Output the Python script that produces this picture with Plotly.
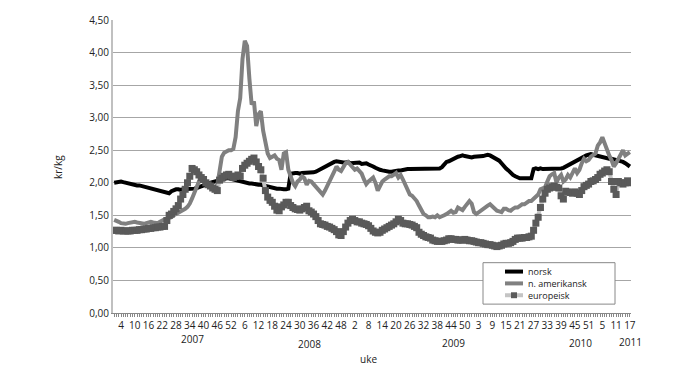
import plotly.graph_objects as go

# week index 0..225 : 2007 w1 .. 2011 w17
norsk = [
    2.00, 2.01, 2.02, 2.02, 2.01, 2.00, 1.99, 1.98, 1.97, 1.97,
    1.96, 1.96, 1.95, 1.94, 1.93, 1.92, 1.91, 1.90, 1.89, 1.88,
    1.87, 1.86, 1.85, 1.84, 1.84, 1.87, 1.89, 1.90, 1.90, 1.89,
    1.90, 1.90, 1.91, 1.90, 1.90, 1.91, 1.92, 1.93, 1.95, 1.96,
    1.97, 1.99, 2.00, 2.02, 2.03, 2.04, 2.05, 2.06, 2.06, 2.07,
    2.07, 2.06, 2.06, 2.05, 2.04, 2.03, 2.02, 2.01, 2.00, 1.99,
    1.99, 1.98, 1.98, 1.97, 1.97, 1.96, 1.96, 1.95, 1.94, 1.93,
    1.92, 1.91, 1.91, 1.90, 1.90, 1.90, 1.91, 2.14, 2.15, 2.15,
    2.15, 2.14, 2.15, 2.15, 2.16, 2.15, 2.15, 2.16, 2.17, 2.19,
    2.21, 2.23, 2.25, 2.27, 2.29, 2.31, 2.32, 2.33, 2.32, 2.32,
    2.31, 2.31, 2.32, 2.30, 2.30, 2.31, 2.30, 2.31, 2.29, 2.30,
    2.30, 2.28, 2.27, 2.25, 2.23, 2.21, 2.20, 2.19, 2.18, 2.18,
    2.17, 2.17, 2.18, 2.18, 2.19, 2.19, 2.20, 2.20, 2.21, 2.21,
    2.21, 2.21, 2.21, 2.21, 2.21, 2.21, 2.21, 2.22, 2.21, 2.21,
    2.21, 2.21, 2.22, 2.24, 2.29, 2.32, 2.33, 2.35, 2.37, 2.39,
    2.40, 2.41, 2.42, 2.41, 2.40, 2.40, 2.39, 2.40, 2.40, 2.41,
    2.40, 2.41, 2.42, 2.43, 2.42, 2.40, 2.39, 2.37, 2.34, 2.30,
    2.25, 2.22, 2.19, 2.15, 2.12, 2.10, 2.08, 2.07, 2.07, 2.07,
    2.07, 2.07, 2.07, 2.21, 2.22, 2.21, 2.22, 2.21, 2.21, 2.21,
    2.21, 2.22, 2.21, 2.21, 2.21, 2.22, 2.23, 2.25, 2.27, 2.29,
    2.31, 2.33, 2.35, 2.37, 2.39, 2.41, 2.42, 2.43, 2.44, 2.43,
    2.42, 2.41, 2.40, 2.39, 2.38, 2.38, 2.37, 2.37, 2.36, 2.36,
    2.35, 2.34, 2.32, 2.30, 2.28, 2.25,
]

namerikansk = [
    1.43, 1.42, 1.40, 1.38, 1.37, 1.37, 1.38, 1.39, 1.40, 1.40,
    1.39, 1.38, 1.38, 1.37, 1.38, 1.39, 1.40, 1.39, 1.38, 1.38,
    1.40, 1.43, 1.44, 1.45, 1.46, 1.47, 1.50, 1.52, 1.53, 1.55,
    1.57, 1.60, 1.63, 1.68, 1.76, 1.86, 1.96, 2.02, 2.05, 2.03,
    2.00, 1.97, 1.95, 1.93, 1.92, 1.96, 2.20, 2.40, 2.46, 2.48,
    2.50, 2.50, 2.52, 2.70, 3.10, 3.30, 3.90, 4.18, 4.10, 3.60,
    3.20, 3.25, 2.87, 3.05, 3.10, 2.80, 2.60, 2.45, 2.38, 2.40,
    2.42, 2.37, 2.35, 2.20, 2.45, 2.47, 2.20, 2.10, 2.00, 1.95,
    2.02, 2.05, 2.10, 2.07, 1.97, 2.03, 2.02, 1.98, 1.94, 1.90,
    1.85, 1.82, 1.88, 1.95, 2.00, 2.10, 2.17, 2.25, 2.20, 2.18,
    2.25, 2.30, 2.32, 2.28, 2.25, 2.20, 2.22, 2.18, 2.14, 2.05,
    1.98, 2.02, 2.05, 2.08, 2.00, 1.88, 1.95, 2.02, 2.05, 2.07,
    2.10, 2.10, 2.12, 2.15, 2.08, 2.12, 2.05, 1.97, 1.90, 1.82,
    1.80, 1.77, 1.72, 1.65, 1.58, 1.52, 1.50, 1.47, 1.47, 1.48,
    1.47, 1.50, 1.47, 1.48, 1.50, 1.52, 1.55, 1.57, 1.54, 1.55,
    1.62, 1.60, 1.58, 1.63, 1.67, 1.72, 1.68, 1.55, 1.52, 1.55,
    1.58, 1.60, 1.62, 1.65, 1.67, 1.63, 1.60, 1.57, 1.56, 1.55,
    1.60, 1.60, 1.58, 1.57, 1.60, 1.62, 1.62, 1.65, 1.67, 1.67,
    1.70, 1.72, 1.72, 1.75, 1.78, 1.82, 1.90, 1.92, 1.93, 2.02,
    2.10, 2.13, 2.15, 2.00, 2.08, 2.12, 2.02, 2.05, 2.12, 2.08,
    2.15, 2.22, 2.15, 2.20, 2.30, 2.37, 2.33, 2.35, 2.40, 2.42,
    2.45, 2.57, 2.62, 2.70, 2.60, 2.50, 2.42, 2.35, 2.25, 2.30,
    2.37, 2.42, 2.50, 2.42, 2.45, 2.47,
]

europeisk = [
    1.27, 1.27, 1.26, 1.27, 1.26, 1.26, 1.26, 1.26, 1.27, 1.27,
    1.27, 1.28, 1.28, 1.29, 1.29, 1.30, 1.30, 1.31, 1.31, 1.32,
    1.32, 1.33, 1.33, 1.42, 1.50, 1.52, 1.56, 1.60, 1.65, 1.75,
    1.82, 1.90, 2.00, 2.10, 2.22, 2.20, 2.17, 2.12, 2.08, 2.05,
    2.00, 1.97, 1.95, 1.92, 1.90, 1.88, 2.04, 2.07, 2.10, 2.12,
    2.13, 2.10, 2.08, 2.10, 2.12, 2.10, 2.22, 2.27, 2.30, 2.33,
    2.36, 2.38, 2.32, 2.25, 2.20, 2.07, 1.88, 1.78, 1.73, 1.70,
    1.64, 1.58, 1.57, 1.63, 1.66, 1.70, 1.70, 1.65, 1.62, 1.60,
    1.59, 1.58, 1.60, 1.62, 1.64, 1.57, 1.55, 1.52, 1.48, 1.42,
    1.37, 1.36, 1.35, 1.33, 1.32, 1.30, 1.28, 1.25, 1.20, 1.19,
    1.25, 1.32, 1.38, 1.42, 1.44, 1.42, 1.40, 1.40, 1.38, 1.37,
    1.36, 1.34, 1.30, 1.26, 1.24, 1.23, 1.24, 1.27, 1.29, 1.31,
    1.33, 1.35, 1.37, 1.40, 1.44, 1.42, 1.38, 1.37, 1.37, 1.36,
    1.35, 1.33, 1.31, 1.24, 1.21, 1.19, 1.17, 1.16, 1.15, 1.12,
    1.11, 1.10, 1.10, 1.10, 1.11, 1.12, 1.14, 1.14, 1.13, 1.13,
    1.12, 1.12, 1.12, 1.13, 1.12, 1.11, 1.11, 1.10, 1.09, 1.08,
    1.08, 1.07, 1.06, 1.05, 1.05, 1.04, 1.03, 1.02, 1.03, 1.04,
    1.06, 1.07, 1.07, 1.08, 1.10, 1.13, 1.15, 1.15, 1.15, 1.16,
    1.16, 1.17, 1.18, 1.27, 1.38, 1.47, 1.62, 1.75, 1.84, 1.90,
    1.92, 1.94, 1.95, 1.93, 1.92, 1.80, 1.75, 1.87, 1.86, 1.85,
    1.84, 1.86, 1.84, 1.82, 1.88, 1.94, 1.96, 1.98, 2.02, 2.03,
    2.05, 2.08, 2.13, 2.15, 2.18, 2.20, 2.17, 2.02, 1.90, 1.82,
    2.02, 2.00, 1.98, 2.00, 2.03, 2.00,
]

series_names = ["norsk", "n. amerikansk", "europeisk"]

# weeks per year shown on the axis
year_names = ["2007", "2008", "2009", "2010", "2011"]
year_weeks = [52, 52, 53, 52, 17]

week_labels = []
for n in year_weeks:
    week_labels += [str(w) for w in range(1, n + 1)]
x = list(range(len(week_labels)))
tick_text = [lab if (i - 3) % 6 == 0 and i >= 3 else "" for i, lab in enumerate(week_labels)]

FONT = "Open Sans"
TXT = "#222222"
L, R, T, B = 113, 69, 16, 60
W, H = 700, 373
pw, ph = W - L - R, H - T - B

C_NO, C_NA, C_EU_LINE, C_EU_MARK = "#000000", "#808080", "#c4c4c4", "#5a5a5a"

fig = go.Figure()
fig.add_trace(go.Scatter(x=x, y=norsk, name=series_names[0], mode="lines",
                         line=dict(color=C_NO, width=4)))
fig.add_trace(go.Scatter(x=x, y=namerikansk, name=series_names[1], mode="lines",
                         line=dict(color=C_NA, width=4)))
fig.add_trace(go.Scatter(x=x, y=europeisk, name=series_names[2], mode="lines+markers",
                         line=dict(color=C_EU_LINE, width=4),
                         marker=dict(symbol="square", size=7, color=C_EU_MARK)))


def px_x(p):
    return (p - L) / pw


def px_y(p):
    return (H - B - p) / ph


ann = []
year_pos = [(192, 339), (309, 344), (453, 343), (580, 343), (630, 342)]
for name, (ax, ay) in zip(year_names, year_pos):
    ann.append(dict(text=name, x=px_x(ax), y=px_y(ay), xref="paper", yref="paper",
                    showarrow=False, xanchor="center", yanchor="middle",
                    font=dict(size=10, color=TXT)))
ann.append(dict(text="uke", x=px_x(368), y=px_y(360), xref="paper", yref="paper",
                showarrow=False, xanchor="center", yanchor="middle",
                font=dict(size=10, color=TXT)))
ann.append(dict(text="kr/kg", x=px_x(58), y=px_y(165), xref="paper", yref="paper",
                showarrow=False, xanchor="center", yanchor="middle", textangle=-90,
                font=dict(size=10, color=TXT)))

# legend box drawn in pixel positions (compact, like the original)
shapes = []
lx0, lx1, ly0, ly1 = 483, 615, 262, 304
shapes.append(dict(type="rect", xref="paper", yref="paper", layer="above",
                   x0=px_x(lx0), x1=px_x(lx1), y0=px_y(ly1), y1=px_y(ly0),
                   fillcolor="white", line=dict(color="#888888", width=1)))
item_y = [271, 283, 295]
sw0, sw1 = 505, 523
for k, (nm, yy) in enumerate(zip(series_names, item_y)):
    col = [C_NO, C_NA, C_EU_LINE][k]
    shapes.append(dict(type="line", xref="paper", yref="paper", layer="above",
                       x0=px_x(sw0), x1=px_x(sw1), y0=px_y(yy), y1=px_y(yy),
                       line=dict(color=col, width=4)))
    if k == 2:
        shapes.append(dict(type="rect", xref="paper", yref="paper", layer="above",
                           x0=px_x(511), x1=px_x(517), y0=px_y(yy + 3), y1=px_y(yy - 3),
                           fillcolor=C_EU_MARK, line=dict(width=0)))
    ann.append(dict(text=nm, x=px_x(526), y=px_y(yy), xref="paper", yref="paper",
                    showarrow=False, xanchor="left", yanchor="middle",
                    font=dict(size=9, color=TXT)))

fig.update_layout(
    width=W, height=H,
    margin=dict(l=L, r=R, t=T, b=B, pad=0),
    paper_bgcolor="white", plot_bgcolor="white",
    font=dict(family=FONT, size=10, color=TXT),
    separators=",.",
    showlegend=False,
    annotations=ann,
    shapes=shapes,
    xaxis=dict(range=[-0.5, len(x) - 0.5], tickmode="array", tickvals=x,
               ticktext=tick_text, tickangle=0, ticks="outside", ticklen=3,
               tickwidth=1, tickcolor="#888", showgrid=False, showline=True,
               linecolor="#888", linewidth=1, zeroline=False,
               tickfont=dict(size=10, color=TXT)),
    yaxis=dict(range=[0, 4.5], tickmode="linear", tick0=0, dtick=0.5,
               tickformat=".2f", showgrid=True, gridcolor="#a6a6a6", gridwidth=1,
               showline=True, linecolor="#c0c0c0", linewidth=2, ticks="",
               zeroline=False, tickfont=dict(size=10, color=TXT)),
)

fig.write_html("out.html")
